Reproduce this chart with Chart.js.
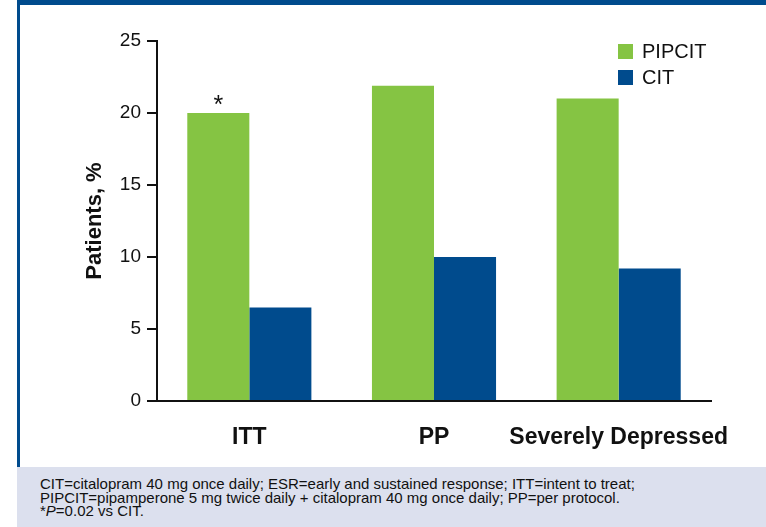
<!DOCTYPE html>
<html>
<head>
<meta charset="utf-8">
<script src="https://cdn.jsdelivr.net/npm/chart.js@4/dist/chart.umd.min.js"></script>
<style>
    html, body { margin: 0; padding: 0; background: #fff; }
    #wrap { position: relative; width: 766px; height: 527px; overflow: hidden; }
    .frame-top { position: absolute; left: 17px; top: 0; width: 749px; height: 5px; background: #004b8d; }
    .frame-left { position: absolute; left: 17px; top: 0; width: 3px; height: 467px; background: #004b8d; }
    #chart { position: absolute; left: 0; top: 0; }
    #legend { position: absolute; left: 618px; top: 41px; font-family: "Liberation Sans Narrow", "Liberation Sans", sans-serif; font-size: 20px; color: #111; }
    #legend div { height: 26px; line-height: 21px; white-space: nowrap; }
    #legend span { display: inline-block; width: 15px; height: 15px; margin-right: 9px; vertical-align: -1px; }
    .footnote { position: absolute; left: 17px; top: 467px; width: 749px; height: 60px; background: #dce0ee;
        font-family: "Liberation Sans", sans-serif; font-size: 15px; line-height: 13.6px; color: #111;
        padding: 10px 0 0 23px; box-sizing: border-box; white-space: nowrap; }
</style>
</head>
<body>
<div id="wrap">
    <div class="frame-top"></div>
    <div class="frame-left"></div>
    <canvas id="chart" width="766" height="467"></canvas>
    <div id="legend"></div>
    <div class="footnote">
        CIT=citalopram 40 mg once daily; ESR=early and sustained response; ITT=intent to treat;<br>
        PIPCIT=pipamperone 5 mg twice daily + citalopram 40 mg once daily; PP=per protocol.<br>
        *<i>P</i>=0.02 vs CIT.
    </div>
</div>
<script>
// values
const categories = ['ITT', 'PP', 'Severely Depressed'];
const pipcitValues = [20, 21.9, 21];
const citValues = [6.5, 10, 9.2];
const pipcitMarks = ['*', '', ''];
const yTicks = [0, 5, 10, 15, 20, 25];

const COLORS = {
    PIPCIT: '#85c443',
    CIT: '#004b8d'
};

const datasets = [
    { label: 'PIPCIT', data: pipcitValues, backgroundColor: COLORS.PIPCIT, marks: pipcitMarks },
    { label: 'CIT', data: citValues, backgroundColor: COLORS.CIT }
];

// asterisk over significant bars
const marksPlugin = {
    id: 'marks',
    afterDatasetsDraw(chart) {
        const ctx = chart.ctx;
        ctx.save();
        ctx.fillStyle = '#111';
        ctx.font = '25px "Liberation Sans", sans-serif';
        ctx.textAlign = 'center';
        ctx.textBaseline = 'alphabetic';
        chart.data.datasets.forEach((ds, i) => {
            if (!ds.marks) return;
            const meta = chart.getDatasetMeta(i);
            ds.marks.forEach((m, j) => {
                if (!m) return;
                const bar = meta.data[j];
                ctx.fillText(m, bar.x, bar.y);
            });
        });
        ctx.restore();
    }
};

const chart = new Chart(document.getElementById('chart').getContext('2d'), {
    type: 'bar',
    data: {
        labels: categories,
        datasets: datasets
    },
    options: {
        responsive: false,
        animation: false,
        devicePixelRatio: 1,
        layout: { padding: { top: 41, right: 55, bottom: 0, left: 0 } },
        datasets: {
            bar: { categoryPercentage: 0.672, barPercentage: 1.0 }
        },
        plugins: {
            legend: { display: false },
            tooltip: { enabled: false }
        },
        scales: {
            x: {
                grid: { display: false, drawTicks: false },
                border: { display: true, color: '#111', width: 2 },
                ticks: {
                    color: '#111',
                    padding: 23,
                    maxRotation: 0,
                    minRotation: 0,
                    autoSkip: false,
                    font: { family: '"Liberation Sans", sans-serif', size: 23, weight: 'bold' }
                },
                afterFit(scale) { scale.height = 66; }
            },
            y: {
                min: 0,
                max: 25,
                afterBuildTicks(scale) { scale.ticks = yTicks.map(v => ({ value: v })); },
                grid: { drawOnChartArea: false, drawTicks: true, tickLength: 10, color: '#111', lineWidth: 2 },
                border: { display: true, color: '#111', width: 2 },
                ticks: {
                    color: '#111',
                    padding: 6,
                    font: { family: '"Liberation Sans", sans-serif', size: 19 }
                },
                title: {
                    display: true,
                    text: 'Patients, %',
                    color: '#111',
                    padding: { top: 82, bottom: 0 },
                    font: { family: '"Liberation Sans", sans-serif', size: 22, weight: 'bold' }
                },
                afterFit(scale) { scale.width = 157; }
            }
        }
    },
    plugins: [marksPlugin]
});

// html legend from the datasets
document.getElementById('legend').innerHTML = datasets
    .map(ds => `<div><span style="background:${ds.backgroundColor}"></span>${ds.label}</div>`)
    .join('');
</script>
</body>
</html>
